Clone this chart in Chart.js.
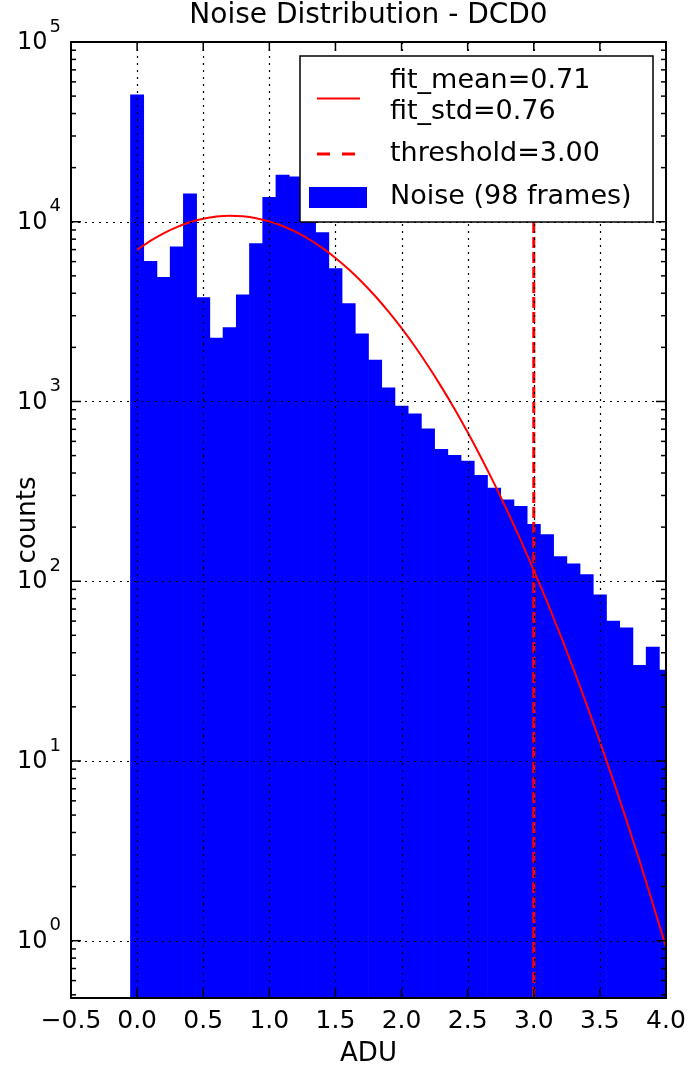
<!DOCTYPE html>
<html><head><meta charset="utf-8">
<script src="https://cdn.jsdelivr.net/npm/chart.js@4.4.0/dist/chart.umd.min.js"></script>
<style>html,body{margin:0;padding:0;background:#fff;}#wrap{width:691px;height:1071px;}</style>
</head><body><div id="wrap"><canvas id="c" width="691" height="1071"></canvas></div>
<script>
// ---- data ----
const chartTitle = 'Noise Distribution - DCD0';
const xAxisLabel = 'ADU';
const yAxisLabel = 'counts';
const noiseLabel = 'Noise (98 frames)';
const fitLabel = ['fit_mean=0.71', 'fit_std=0.76'];
const thresholdLabel = 'threshold=3.00';
const thresholdValue = 3.0;
const thresholdTop = 10800;

const binCenters = [0.0,0.1,0.2,0.3,0.4,0.5,0.6,0.7,0.8,0.9,1.0,1.1,1.2,1.3,1.4,1.5,1.6,1.7,1.8,1.9,2.0,
                    2.1,2.2,2.3,2.4,2.5,2.6,2.7,2.8,2.9,3.0,3.1,3.2,3.3,3.4,3.5,3.6,3.7,3.8,3.9,4.0];
const noiseCounts = [50800,6030,4900,7260,14300,3790,2250,2580,3920,7570,13650,18200,17800,13500,8700,5490,3500,2380,1700,1190,942,
                     855,705,541,501,466,388,330,284,261,207,182,137,125,109,84,60,55,34,43,32];

const fitX = [0.0,0.1,0.2,0.3,0.4,0.5,0.6,0.7,0.8,0.9,1.0,1.1,1.2,1.3,1.4,1.5,1.6,1.7,1.8,1.9,2.0,
              2.1,2.2,2.3,2.4,2.5,2.6,2.7,2.8,2.9,3.0,3.1,3.2,3.3,3.4,3.5,3.6,3.7,3.8,3.9,4.0];
const fitY = [6980,7826,8623,9338,9938,10395,10687,10799,10724,10468,10042,9467,8773,7991,7153,6292,5440,4623,3861,3170,2557,
              2028,1580,1210,912,674,490,350,246,170,115,76.9,50.4,32.5,20.6,12.8,7.83,4.70,2.78,1.61,0.92];

const xTickValues = [-0.5,0.0,0.5,1.0,1.5,2.0,2.5,3.0,3.5,4.0];
const yTickExponents = [0,1,2,3,4,5];
const xMin = -0.5, xMax = 4.0;
const yMin = 0.48, yMax = 100000;

// ---- styles ----
const FONT = '"DejaVu Sans", sans-serif';
const BLUE = '#0000ff', RED = '#ff0000';

const overlay = {
  id: 'overlay',
  afterDraw(chart) {
    const {ctx, chartArea: a, scales: {x, y}} = chart;
    ctx.save();
    const seg = (x1, y1, x2, y2) => { ctx.beginPath(); ctx.moveTo(x1, y1); ctx.lineTo(x2, y2); ctx.stroke(); };
    // dotted grid on top of the bars
    ctx.strokeStyle = '#000'; ctx.lineWidth = 1.2; ctx.setLineDash([2, 5]);
    xTickValues.forEach(v => { const px = Math.round(x.getPixelForValue(v)) + 0.5; if (px > a.left + 2 && px < a.right - 2) seg(px, a.top, px, a.bottom); });
    yTickExponents.forEach(e => { const py = Math.round(y.getPixelForValue(Math.pow(10, e))) + 0.5; if (py > a.top + 2 && py < a.bottom - 2) seg(a.left, py, a.right, py); });
    ctx.setLineDash([]);
    // inward ticks
    ctx.lineWidth = 1.5;
    xTickValues.forEach(v => { const px = x.getPixelForValue(v); seg(px, a.bottom, px, a.bottom - 9); seg(px, a.top, px, a.top + 9); });
    for (let e = -1; e <= 5; e++) {
      for (let m = 1; m <= 9; m++) {
        const v = m * Math.pow(10, e);
        if (v < yMin || v > yMax) continue;
        const py = y.getPixelForValue(v); const len = m === 1 ? 10 : 5;
        seg(a.left, py, a.left + len, py); seg(a.right, py, a.right - len, py);
      }
    }
    // frame
    ctx.lineWidth = 2; ctx.strokeStyle = '#000';
    ctx.strokeRect(a.left, a.top, a.right - a.left, a.bottom - a.top);
    // y tick labels 10^n
    ctx.fillStyle = '#000'; ctx.textBaseline = 'middle'; ctx.textAlign = 'right';
    yTickExponents.forEach(e => {
      const py = y.getPixelForValue(Math.pow(10, e));
      ctx.font = '18px ' + FONT; const ex = String(e); const ew = ctx.measureText(ex).width;
      const right = a.left - 10;
      ctx.fillText(ex, right, py - 15);
      ctx.font = '24px ' + FONT; ctx.fillText('10', right - ew - 2, py + 1);
    });
    // title
    ctx.textAlign = 'center'; ctx.font = '28px ' + FONT;
    ctx.fillText(chartTitle, (a.left + a.right) / 2, 16);
    // legend
    const L = {x: 300, y: 56, w: 353, h: 166};
    ctx.fillStyle = '#fff'; ctx.fillRect(L.x, L.y, L.w, L.h);
    ctx.lineWidth = 1.5; ctx.strokeStyle = '#000'; ctx.strokeRect(L.x, L.y, L.w, L.h);
    ctx.fillStyle = '#000'; ctx.textAlign = 'left'; ctx.font = '27px ' + FONT;
    const tx = 390;
    ctx.strokeStyle = RED; ctx.lineWidth = 2; seg(317, 98.5, 360, 98.5);
    ctx.fillText(fitLabel[0], tx, 81); ctx.fillText(fitLabel[1], tx, 112);
    ctx.lineWidth = 3; ctx.setLineDash([13, 12]); seg(317, 154, 356, 154); ctx.setLineDash([]);
    ctx.fillText(thresholdLabel, tx, 154);
    ctx.fillStyle = BLUE; ctx.fillRect(309, 187, 58, 21);
    ctx.fillStyle = '#000'; ctx.fillText(noiseLabel, tx, 197);
    ctx.restore();
  }
};

new Chart(document.getElementById('c'), {
  type: 'bar',
  data: {
    datasets: [
      { type: 'line', label: fitLabel.join(' '), data: fitX.map((v, i) => ({x: v, y: fitY[i]})),
        borderColor: RED, borderWidth: 2, pointRadius: 0, fill: false, cubicInterpolationMode: 'monotone', order: 1 },
      { type: 'line', label: thresholdLabel, data: [{x: thresholdValue, y: yMin}, {x: thresholdValue, y: thresholdTop}],
        borderColor: RED, borderWidth: 3, borderDash: [11, 4], pointRadius: 0, fill: false, order: 2 },
      { type: 'bar', label: noiseLabel, data: binCenters.map((v, i) => ({x: v, y: noiseCounts[i]})),
        backgroundColor: BLUE, borderWidth: 0, barPercentage: 1.0, categoryPercentage: 1.0, order: 3 }
    ]
  },
  options: {
    responsive: false, animation: false, devicePixelRatio: 1,
    layout: { padding: { top: 42, right: 0, left: 0, bottom: 0 } },
    plugins: { legend: { display: false }, tooltip: { enabled: false }, title: { display: false } },
    scales: {
      x: {
        type: 'linear', min: xMin, max: xMax, offset: false,
        grid: { display: false, drawTicks: false, offset: false }, border: { display: false },
        ticks: { stepSize: 0.5, autoSkip: false, maxRotation: 0, padding: 8, color: '#000',
                 font: { family: FONT, size: 25 },
                 callback: v => (v < 0 ? '\u2212' : '') + Math.abs(v).toFixed(1) },
        title: { display: true, text: xAxisLabel, color: '#000', font: { family: FONT, size: 26 }, padding: { top: 0, bottom: 1 } },
        afterFit: s => { s.height = 73; s.paddingRight = 25; s.paddingLeft = 0; }
      },
      y: {
        type: 'logarithmic', min: yMin, max: yMax,
        grid: { display: false, drawTicks: false }, border: { display: false },
        ticks: { display: false },
        title: { display: true, text: yAxisLabel, color: '#000', font: { family: FONT, size: 26 }, padding: { top: 13, bottom: 0 } },
        afterFit: s => { s.width = 71; }
      }
    }
  },
  plugins: [overlay]
});
</script></body></html>
